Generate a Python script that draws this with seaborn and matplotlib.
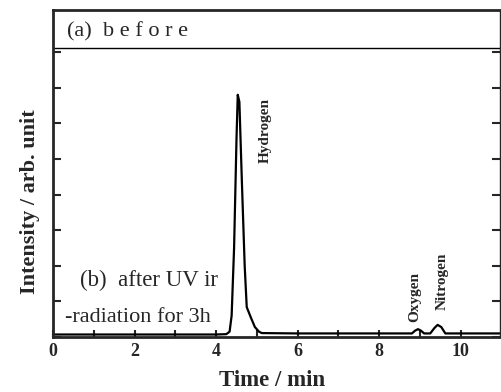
import matplotlib
matplotlib.use("Agg")
import matplotlib.pyplot as plt
import seaborn as sns
import pandas as pd
from matplotlib.ticker import MultipleLocator

# chromatogram trace (time in min, intensity in arb. units)
time_min = [0.0, 4.0, 4.25, 4.33, 4.38, 4.44, 4.50, 4.53, 4.57, 4.63, 4.70, 4.75,
            4.85, 4.95, 5.05, 5.12, 6.0, 8.0, 8.80, 8.88, 8.95, 9.02, 9.10, 9.25,
            9.35, 9.43, 9.52, 9.62, 10.0, 11.0]
intensity = [0.07, 0.07, 0.08, 0.15, 0.6, 2.5, 5.6, 6.8, 6.6, 4.4, 2.0, 0.84,
             0.55, 0.28, 0.15, 0.11, 0.1, 0.1, 0.1, 0.18, 0.22, 0.18, 0.1, 0.1,
             0.25, 0.34, 0.28, 0.1, 0.1, 0.1]

peak_names = ["Hydrogen", "Oxygen", "Nitrogen"]
peak_x = [5.2, 8.86, 9.55]
peak_y = [6.72, 0.42, 0.76]

df = pd.DataFrame({"Time": time_min, "Intensity": intensity})

sns.set_style("ticks")
plt.rcParams['font.family'] = ['Liberation Serif', 'DejaVu Serif']

fig = plt.figure(figsize=(5.01, 3.92), dpi=100)
ax = fig.add_axes([53 / 501, 55 / 392, 447 / 501, 327 / 392])

sns.lineplot(ax=ax, data=df, x="Time", y="Intensity", color="black", lw=1.6,
             estimator=None, sort=False)

ax.set_xlim(0, 10.96)
ax.set_ylim(0, 9.18)

# panel (a) separator
ax.axhline(8.1, color="black", lw=1.0)

ax.xaxis.set_major_locator(MultipleLocator(2))
ax.xaxis.set_minor_locator(MultipleLocator(1))
ax.set_yticks([i for i in range(0, 9)])
ax.set_yticklabels([])
ax.tick_params(axis="x", which="both", direction="in", length=5, width=1.5,
               labelsize=13, pad=4)
ax.tick_params(axis="y", which="both", direction="in", length=6, width=1.5,
               left=True, right=True)
for lab in ax.get_xticklabels():
    lab.set_fontweight("bold")

for side in ["left", "top", "bottom"]:
    ax.spines[side].set_linewidth(2)
ax.spines["right"].set_linewidth(1.0)

ax.set_xlabel("")
ax.set_ylabel("")
fig.text(272 / 501, 1 - 380 / 392, "Time / min", fontsize=16.5, fontweight="bold",
         ha="center", va="center")
fig.text(30 / 501, 1 - 202 / 392, "Intensity / arb. unit", fontsize=16, fontweight="bold",
         rotation=90, ha="center", va="center")

ax.text(0.35, 8.57, "(a)  b e f o r e", fontsize=16, va="center", ha="left")
ax.text(0.65, 1.6, "(b)  after UV ir", fontsize=16.5, va="center", ha="left")
ax.text(0.3, 0.56, "-radiation for 3h", fontsize=16, va="center", ha="left")

for name, xx, yy in zip(peak_names, peak_x, peak_y):
    ax.text(xx, yy, name, rotation=90, fontsize=11, fontweight="bold",
            ha="center", va="top" if name == "Hydrogen" else "bottom")

fig.savefig("out.png", dpi=100)
